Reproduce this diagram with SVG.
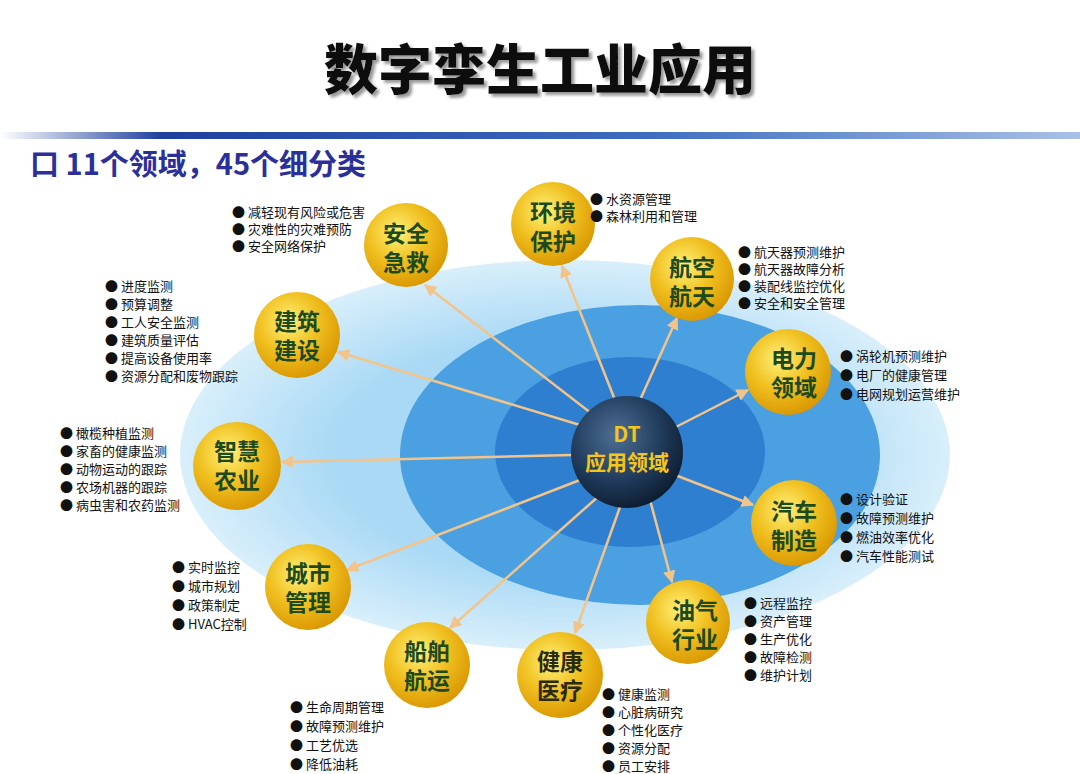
<svg xmlns="http://www.w3.org/2000/svg" width="1080" height="774" viewBox="0 0 1080 774">
<defs>
<linearGradient id="bar" x1="0" x2="1"><stop offset="0" stop-color="#fff"/><stop offset="0.15" stop-color="#1f3f9f"/><stop offset="0.6" stop-color="#3d6cc0"/><stop offset="1" stop-color="#a9c1e6"/></linearGradient>
<radialGradient id="gold" cx="0.4" cy="0.35" r="0.7"><stop offset="0" stop-color="#fff27a"/><stop offset="0.5" stop-color="#f0c020"/><stop offset="1" stop-color="#d79400"/></radialGradient>
<radialGradient id="dt" cx="0.4" cy="0.35" r="0.7"><stop offset="0" stop-color="#4d6f94"/><stop offset="0.6" stop-color="#1f3a5a"/><stop offset="1" stop-color="#0c1a2c"/></radialGradient>
<radialGradient id="halo" cx="0.5" cy="0.5" r="0.5"><stop offset="0.6" stop-color="#a9d9f5"/><stop offset="1" stop-color="#d9effb"/></radialGradient>
<filter id="sh" x="-5%" y="-20%" width="110%" height="140%"><feDropShadow dx="3" dy="3" stdDeviation="1.5" flood-color="#999"/></filter>
<marker id="ah" viewBox="0 0 10 10" refX="9" refY="5" markerWidth="5" markerHeight="5" orient="auto"><path d="M0,0L10,5L0,10z" fill="#f3c48a"/></marker>
<style>
.t{font-family:"Noto Sans CJK SC",sans-serif}
.n{font-family:"Noto Sans CJK SC",sans-serif;font-weight:bold;font-size:23px;fill:#1d4a1d;text-anchor:middle}
.b{font-family:"Noto Sans CJK SC",sans-serif;font-size:13px;fill:#111}
.c{fill:url(#gold)}
.a{stroke:#f3c48a;stroke-width:2.5;fill:none;marker-end:url(#ah)}
</style>
</defs>
<rect width="1080" height="774" fill="#fff"/>
<text x="540" y="90" class="t" font-size="54" font-weight="900" text-anchor="middle" fill="#111" filter="url(#sh)">数字孪生工业应用</text>
<rect x="0" y="132" width="1080" height="7" fill="url(#bar)"/>
<text x="30" y="175" class="t" font-size="29" font-weight="bold" fill="#2a2f9a">口 11个领域，45个细分类</text>
<ellipse cx="565" cy="455" rx="385" ry="195" fill="url(#halo)"/>
<ellipse cx="640" cy="455" rx="240" ry="150" fill="#4aa0e0"/>
<ellipse cx="630" cy="452" rx="135" ry="95" fill="#2e7fcf"/>
<g id="connectors">
<line class="a" x1="600" y1="420" x2="425" y2="285"/>
<line class="a" x1="615" y1="400" x2="562" y2="266"/>
<line class="a" x1="640" y1="400" x2="677" y2="318"/>
<line class="a" x1="670" y1="430" x2="748" y2="390"/>
<line class="a" x1="675" y1="475" x2="753" y2="505"/>
<line class="a" x1="650" y1="500" x2="672" y2="582"/>
<line class="a" x1="620" y1="507" x2="575" y2="633"/>
<line class="a" x1="600" y1="495" x2="450" y2="628"/>
<line class="a" x1="580" y1="480" x2="347" y2="570"/>
<line class="a" x1="572" y1="455" x2="282" y2="462"/>
<line class="a" x1="580" y1="425" x2="338" y2="352"/>
</g>
<g id="dt"><circle cx="627" cy="452" r="56" fill="url(#dt)"/><text class="n" style="fill:#f5c518;font-size:21px"><tspan x="627" y="442">DT</tspan><tspan x="627" y="470">应用领域</tspan></text></g>
<g id="n1"><circle class="c" cx="406" cy="245" r="42"/><text class="n"><tspan x="406" y="242">安全</tspan><tspan x="406" y="271">急救</tspan></text></g>
<g id="n2"><circle class="c" cx="553" cy="224" r="42"/><text class="n"><tspan x="553" y="221">环境</tspan><tspan x="553" y="250">保护</tspan></text></g>
<g id="n3"><circle class="c" cx="692" cy="279" r="42"/><text class="n"><tspan x="692" y="276">航空</tspan><tspan x="692" y="305">航天</tspan></text></g>
<g id="n4"><circle class="c" cx="788" cy="372" r="43"/><text class="n"><tspan x="794" y="367">电力</tspan><tspan x="794" y="396">领域</tspan></text></g>
<g id="n5"><circle class="c" cx="794" cy="523" r="43"/><text class="n"><tspan x="794" y="520">汽车</tspan><tspan x="794" y="549">制造</tspan></text></g>
<g id="n6"><circle class="c" cx="688" cy="622" r="42"/><text class="n"><tspan x="695" y="619">油气</tspan><tspan x="695" y="648">行业</tspan></text></g>
<g id="n7"><circle class="c" cx="560" cy="675" r="43"/><text class="n" style="fill:#2a2a10"><tspan x="560" y="670">健康</tspan><tspan x="560" y="699">医疗</tspan></text></g>
<g id="n8"><circle class="c" cx="427" cy="665" r="43"/><text class="n"><tspan x="427" y="660">船舶</tspan><tspan x="427" y="689">航运</tspan></text></g>
<g id="n9"><circle class="c" cx="308" cy="587" r="43"/><text class="n"><tspan x="308" y="582">城市</tspan><tspan x="308" y="611">管理</tspan></text></g>
<g id="n10"><circle class="c" cx="237" cy="466" r="44"/><text class="n"><tspan x="237" y="460">智慧</tspan><tspan x="237" y="489">农业</tspan></text></g>
<g id="n11"><circle class="c" cx="297" cy="335" r="43"/><text class="n"><tspan x="297" y="330">建筑</tspan><tspan x="297" y="359">建设</tspan></text></g>
<g class="b">
<text x="232" y="217">● 减轻现有风险或危害</text><text x="232" y="234">● 灾难性的灾难预防</text><text x="232" y="251">● 安全网络保护</text>
<text x="590" y="204">● 水资源管理</text><text x="590" y="221">● 森林利用和管理</text>
<text x="738" y="257">● 航天器预测维护</text><text x="738" y="274">● 航天器故障分析</text><text x="738" y="291">● 装配线监控优化</text><text x="738" y="308">● 安全和安全管理</text>
<text x="840" y="361">● 涡轮机预测维护</text><text x="840" y="380">● 电厂的健康管理</text><text x="840" y="399">● 电网规划运营维护</text>
<text x="840" y="504">● 设计验证</text><text x="840" y="523">● 故障预测维护</text><text x="840" y="542">● 燃油效率优化</text><text x="840" y="561">● 汽车性能测试</text>
<text x="744" y="608">● 远程监控</text><text x="744" y="626">● 资产管理</text><text x="744" y="644">● 生产优化</text><text x="744" y="662">● 故障检测</text><text x="744" y="680">● 维护计划</text>
<text x="602" y="699">● 健康监测</text><text x="602" y="717">● 心脏病研究</text><text x="602" y="735">● 个性化医疗</text><text x="602" y="753">● 资源分配</text><text x="602" y="771">● 员工安排</text>
<text x="290" y="712">● 生命周期管理</text><text x="290" y="731">● 故障预测维护</text><text x="290" y="750">● 工艺优选</text><text x="290" y="769">● 降低油耗</text>
<text x="172" y="572">● 实时监控</text><text x="172" y="591">● 城市规划</text><text x="172" y="610">● 政策制定</text><text x="172" y="629">● HVAC控制</text>
<text x="60" y="438">● 橄榄种植监测</text><text x="60" y="456">● 家畜的健康监测</text><text x="60" y="474">● 动物运动的跟踪</text><text x="60" y="492">● 农场机器的跟踪</text><text x="60" y="510">● 病虫害和农药监测</text>
<text x="105" y="291">● 进度监测</text><text x="105" y="309">● 预算调整</text><text x="105" y="327">● 工人安全监测</text><text x="105" y="345">● 建筑质量评估</text><text x="105" y="363">● 提高设备使用率</text><text x="105" y="381">● 资源分配和废物跟踪</text>
</g>
</svg>
